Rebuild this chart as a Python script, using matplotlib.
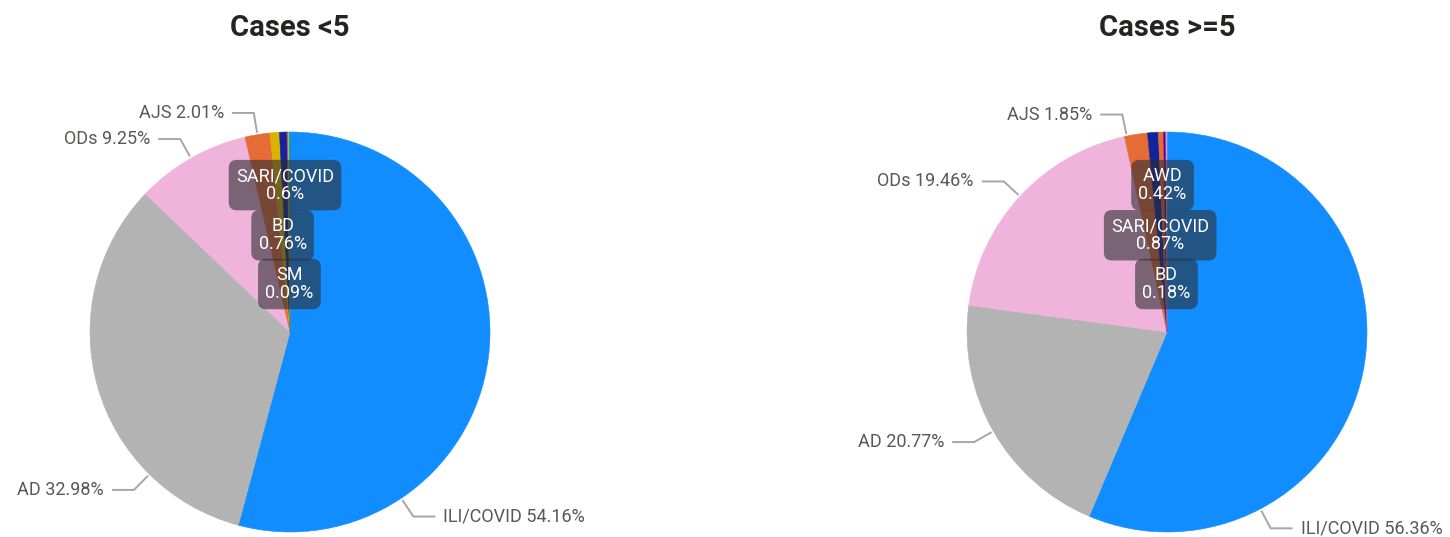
import numpy as np
import matplotlib
matplotlib.use("Agg")
import matplotlib.pyplot as plt

# ---- data (percent shares, clockwise from 12 o'clock) ----
left_title = "Cases <5"
left_labels = ["ILI/COVID", "AD", "ODs", "AJS", "BD", "SARI/COVID", "SM", "", ""]
left_values = [54.16, 32.98, 9.25, 2.01, 0.76, 0.6, 0.09, 0.08, 0.07]
left_colors = ["#118DFF", "#B3B3B3", "#F0B3DC", "#E66C37", "#D9B300",
               "#12239E", "#D64550", "#A8B4C8", "#1AAB40"]

right_title = "Cases >=5"
right_labels = ["ILI/COVID", "AD", "ODs", "AJS", "SARI/COVID", "AWD", "BD", ""]
right_values = [56.36, 20.77, 19.46, 1.85, 0.87, 0.42, 0.18, 0.09]
right_colors = ["#118DFF", "#B3B3B3", "#F0B3DC", "#E66C37", "#12239E",
                "#E66C37", "#6B007B", "#B9A5E8"]

# ---- layout: which labels go outside (position along wedge) / inside (radius) ----
left_outside = {"ILI/COVID": 0.75, "AD": 0.25, "ODs": 0.5, "AJS": 0.5}
left_inside = {"SARI/COVID": 0.735, "BD": 0.485, "SM": 0.24}
right_outside = {"ILI/COVID": 0.75, "AD": 0.5, "ODs": 0.5, "AJS": 0.1}
right_inside = {"AWD": 0.735, "SARI/COVID": 0.485, "BD": 0.24}

W, H = 1450, 537
R = 200
LINE_C = "#A6A6A6"
TEXT_C = "#5A5856"

plt.rcParams['font.family'] = ['Roboto', 'DejaVu Sans']

fig = plt.figure(figsize=(W / 100, H / 100), dpi=100)
ax = fig.add_axes([0, 0, 1, 1])


def draw_pie(cx, cy, title, labels, values, colors, outside, inside):
    wedges, _ = ax.pie(values, colors=colors, startangle=90, counterclock=False,
                       center=(cx, cy), radius=R, wedgeprops=dict(linewidth=0.4))
    for w in wedges:
        w.set_edgecolor(w.get_facecolor())
    ax.text(cx, H - 28, title, ha="center", va="center", fontsize=21,
            fontweight="bold", color="#252423")
    for w, lab, val in zip(wedges, labels, values):
        if not lab:
            continue
        txt = f"{lab} {val:g}%"
        if lab in outside:
            f = outside[lab]
            ang = np.radians(w.theta2 - f * (w.theta2 - w.theta1))
            d = np.array([np.cos(ang), np.sin(ang)])
            p0 = np.array([cx, cy]) + d * (R + 2)
            p1 = np.array([cx, cy]) + d * (R + 22)
            side = 1 if d[0] >= 0 else -1
            p2 = p1 + np.array([side * 22, 0])
            ax.plot([p0[0], p1[0], p2[0]], [p0[1], p1[1], p2[1]],
                    color=LINE_C, lw=1.4, solid_capstyle="butt")
            ax.text(p2[0] + side * 8, p2[1], txt, ha="left" if side > 0 else "right",
                    va="center", fontsize=13, color=TEXT_C)
        elif lab in inside:
            ang = np.radians((w.theta1 + w.theta2) / 2)
            r = inside[lab] * R
            x = cx + r * np.cos(ang)
            y = cy + r * np.sin(ang)
            ax.text(x, y, f"{lab}\n{val:g}%", ha="center", va="center",
                    fontsize=13, color="white", linespacing=1.0,
                    bbox=dict(boxstyle="round,pad=0.4,rounding_size=0.45",
                              fc=(0.18, 0.18, 0.2, 0.6), ec="none"))


draw_pie(290, H - 332, left_title, left_labels, left_values, left_colors,
         left_outside, left_inside)
draw_pie(1167, H - 332, right_title, right_labels, right_values, right_colors,
         right_outside, right_inside)

ax.set_xlim(0, W)
ax.set_ylim(0, H)
ax.set_aspect("equal")
ax.axis("off")

fig.savefig("out.png", dpi=100, facecolor="white")
